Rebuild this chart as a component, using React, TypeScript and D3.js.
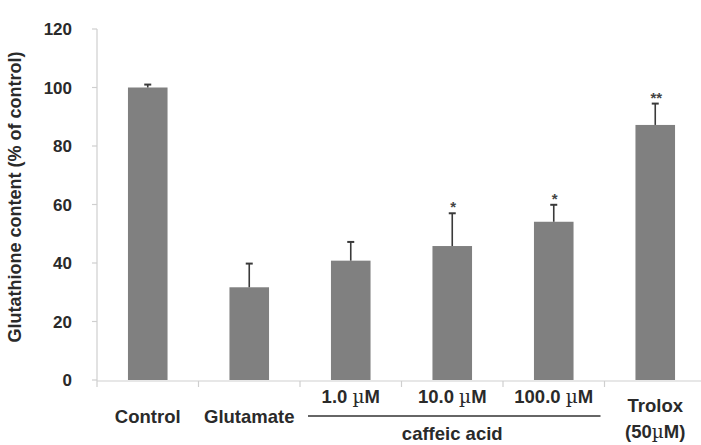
import React from "react";
import * as d3 from "d3";

// group labels
const categories = ["Control", "Glutamate", "1.0", "10.0", "100.0", "Trolox"];
const values = [100, 31.7, 40.8, 45.8, 54.1, 87.2];
const errors = [1, 8.1, 6.4, 11.2, 5.8, 7.3];
const marks = ["", "", "", "*", "*", "**"];
const yTicks = [0, 20, 40, 60, 80, 100, 120];

const W = 701;
const H = 445;
const font = "'Liberation Sans', Arial, sans-serif";

const App = () => {
  const x = d3.scaleBand<string>().domain(categories).range([97, 706]);
  const y = d3.scaleLinear().domain([0, 120]).range([380, 29]);
  const barW = x.bandwidth() * 0.39;
  const cx = (c: string) => (x(c) as number) + x.bandwidth() / 2;
  const axisY = y(0) + 1;

  return (
    <div style={{ position: "fixed", left: 0, top: 0 }}>
      <svg width={W} height={H} style={{ display: "block", background: "#fff" }}>
        {/* y axis */}
        <line x1={97} x2={97} y1={y(120)} y2={axisY} stroke="#cfcfcf" strokeWidth={1.2} />
        {yTicks.map((t) => (
          <g key={t}>
            <line x1={92} x2={97} y1={y(t)} y2={y(t)} stroke="#cfcfcf" strokeWidth={1.2} />
            <text
              x={72}
              y={y(t)}
              dy="0.36em"
              textAnchor="end"
              fontFamily={font}
              fontWeight="bold"
              fontSize={17}
              fill="#2a2a2a"
            >
              {t}
            </text>
          </g>
        ))}
        <text
          transform={`translate(21,197) rotate(-90)`}
          textAnchor="middle"
          fontFamily={font}
          fontWeight="bold"
          fontSize={18}
          fill="#2a2a2a"
        >
          Glutathione content (% of control)
        </text>

        {/* bars + error bars */}
        {categories.map((c, i) => {
          const top = y(values[i]);
          const eTop = y(values[i] + errors[i]);
          return (
            <g key={c}>
              <rect x={cx(c) - barW / 2} y={top} width={barW} height={y(0) - top} fill="#808080" />
              <line x1={cx(c)} x2={cx(c)} y1={top} y2={eTop} stroke="#3a3a3a" strokeWidth={1.6} />
              <line x1={cx(c) - 3.5} x2={cx(c) + 3.5} y1={eTop} y2={eTop} stroke="#3a3a3a" strokeWidth={2} />
              {marks[i] && (
                <text
                  x={cx(c) + 1}
                  y={eTop - 1}
                  textAnchor="middle"
                  fontFamily={font}
                  fontSize={15}
                  fontWeight="bold"
                  fill="#444"
                >
                  {marks[i]}
                </text>
              )}
            </g>
          );
        })}

        {/* x axis */}
        <line x1={97} x2={W} y1={axisY} y2={axisY} stroke="#cfcfcf" strokeWidth={1.2} />
        {categories.map((c) => (
          <line
            key={c}
            x1={x(c) as number}
            x2={x(c) as number}
            y1={axisY}
            y2={axisY + 6}
            stroke="#cfcfcf"
            strokeWidth={1.2}
          />
        ))}

        {/* category labels */}
        <g fontFamily={font} fontWeight="bold" fontSize={18.5} fill="#2a2a2a" textAnchor="middle">
          <text x={cx("Control")} y={423}>Control</text>
          <text x={cx("Glutamate")} y={423}>Glutamate</text>
          {["1.0", "10.0", "100.0"].map((c) => (
            <text key={c} x={cx(c)} y={403}>
              {c} <tspan fontFamily="'DejaVu Serif', serif" fontWeight="normal">µ</tspan>M
            </text>
          ))}
          <text x={cx("Trolox")} y={412}>Trolox</text>
          <text x={cx("Trolox")} y={438}>
            (50<tspan fontFamily="'DejaVu Serif', serif" fontWeight="normal">µ</tspan>M)
          </text>
          <line
            x1={(x("1.0") as number) + 8}
            x2={(x("100.0") as number) + x.bandwidth() - 4}
            y1={416}
            y2={416}
            stroke="#333"
            strokeWidth={1.5}
          />
          <text x={cx("10.0")} y={440}>caffeic acid</text>
        </g>
      </svg>
    </div>
  );
};

export default App;
